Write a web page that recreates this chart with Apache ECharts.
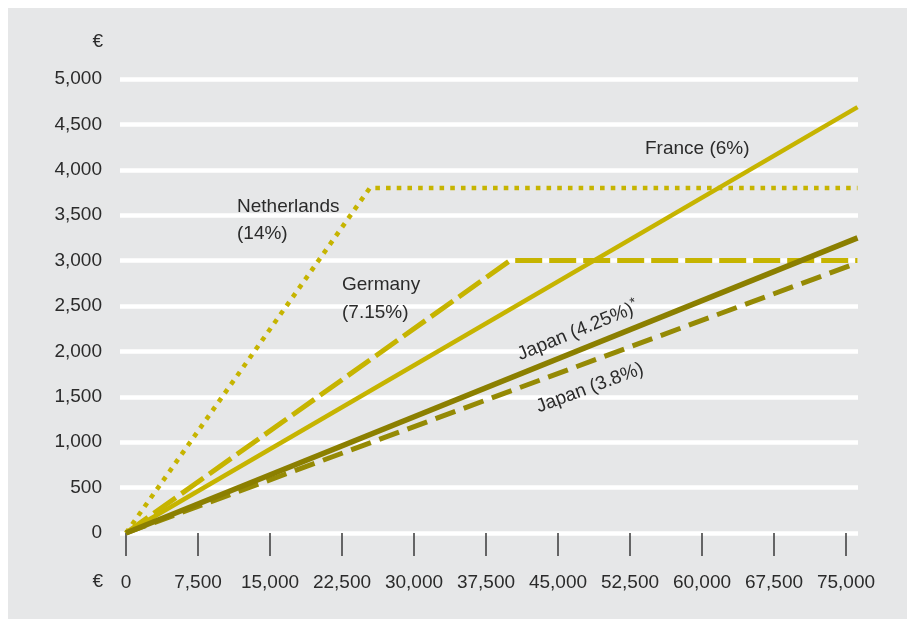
<!DOCTYPE html>
<html>
<head>
<meta charset="utf-8">
<script src="https://cdn.jsdelivr.net/npm/echarts@6/dist/echarts.min.js"></script>
<style>
  html, body { margin: 0; padding: 0; background: #ffffff; }
  #panel { position: absolute; left: 8px; top: 8px; width: 899px; height: 611px; background: #e6e7e8; }
  #chart { position: absolute; left: 0; top: 0; width: 907px; height: 619px; }
</style>
</head>
<body>
<div id="panel"></div>
<div id="chart"></div>
<script>
// Gross income (€) against the capped contribution (€) for each country
const xTicks = [0, 7500, 15000, 22500, 30000, 37500, 45000, 52500, 60000, 67500, 75000];
const netherlands = [[0, 0], [25400, 3800], [76200, 3800]];   // 14%, capped
const germany     = [[0, 0], [40000, 3000], [76200, 3000]];   // 7.15%, capped
const france      = [[0, 0], [76200, 4690]];                  // 6%
const japan38     = [[0, 0], [76200, 2975]];                  // 3.8%
const japan425    = [[0, 0], [76200, 3250]];                  // 4.25%

const YELLOW = '#c6b400';
const OLIVE = '#8b7f00';
const OLIVE_DASH = '#958a05';
const TEXT = '#2b2b2b';
const FONT = '"Liberation Sans", Arial, sans-serif';

const chart = echarts.init(document.getElementById('chart'), null, { renderer: 'canvas' });

function line(name, data, color, width, dash) {
  return {
    name, type: 'line', data, symbol: 'none', animation: false,
    lineStyle: { color, width, type: dash || 'solid', cap: 'butt', join: 'miter' }
  };
}

function note(x, y, text, extra) {
  return Object.assign({
    type: 'text', x, y, z: 100,
    style: Object.assign({ text, align: 'left', verticalAlign: 'middle', fill: TEXT, font: '19px ' + FONT }, extra && extra.style)
  }, extra && extra.el);
}

chart.setOption({
  animation: false,
  grid: { left: 120, right: 49, top: 79, bottom: 86 },
  xAxis: {
    type: 'value', min: -625, max: 76250,
    offset: 2,
    axisLine: { show: false },
    splitLine: { show: false },
    axisTick: { show: true, length: 23, customValues: xTicks, lineStyle: { color: '#3a3a3a', width: 1.5 } },
    axisLabel: {
      customValues: xTicks, margin: 38, color: TEXT, fontFamily: FONT, fontSize: 19,
      formatter: v => v.toLocaleString('en-US')
    }
  },
  yAxis: {
    type: 'value', min: 0, max: 5000, interval: 500,
    axisLine: { show: false },
    axisTick: { show: false },
    splitLine: { lineStyle: { color: '#ffffff', width: 4.5 } },
    axisLabel: { margin: 18, color: TEXT, fontFamily: FONT, fontSize: 19,
      formatter: v => v.toLocaleString('en-US') }
  },
  series: [
    line('Netherlands', netherlands, YELLOW, 4.6, [4.6, 6.1]),
    line('Germany', germany, YELLOW, 5, [27, 7]),
    line('France', france, YELLOW, 4.5),
    line('Japan (3.8%)', japan38, OLIVE_DASH, 5, [21, 9]),
    line('Japan (4.25%)', japan425, OLIVE, 5.5)
  ],
  graphic: [
    note(103, 42, '€', { style: { align: 'right' } }),
    note(103, 582, '€', { style: { align: 'right' } }),
    note(645, 149, 'France (6%)'),
    note(237, 220, 'Netherlands\n(14%)', { style: { lineHeight: 27 } }),
    note(342, 299, 'Germany\n(7.15%)', { style: { lineHeight: 28 } }),
    note(578, 331, 'Japan (4.25%){s|*}', {
      el: { rotation: 0.39 },
      style: { align: 'center', rich: { s: { fontSize: 14, fontFamily: FONT, fill: TEXT, padding: [0, 0, 10, 0] } } }
    }),
    note(590, 388, 'Japan (3.8%)', { el: { rotation: 0.355 }, style: { align: 'center' } })
  ]
});
</script>
</body>
</html>
